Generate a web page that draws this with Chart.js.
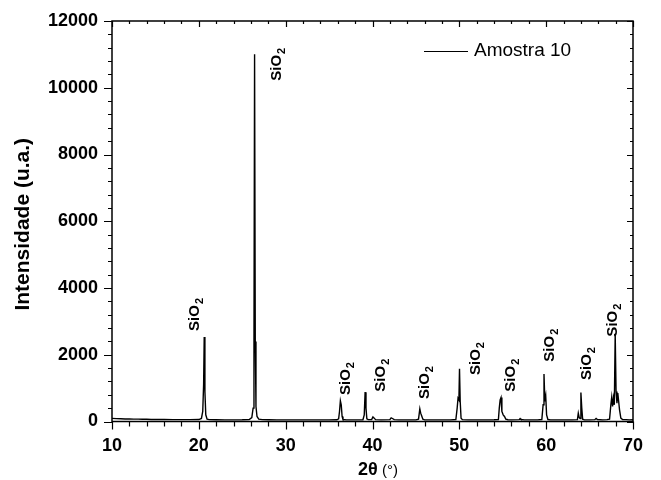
<!DOCTYPE html>
<html>
<head>
<meta charset="utf-8">
<script src="https://cdn.jsdelivr.net/npm/chart.js@4.4.1/dist/chart.umd.min.js"></script>
<style>
  body { margin: 0; background: #fff; }
  #wrap { width: 661px; height: 480px; }
</style>
</head>
<body>
<div id="wrap"><canvas id="xrdChart" width="661" height="480"></canvas></div>
<script>
// diffractogram: 2theta (deg) and intensity (u.a.)
var twoTheta = [10.0, 10.5, 11.0, 11.5, 12.0, 12.5, 13.0, 13.5, 14.0, 14.5, 15.0, 16.0, 17.0, 18.0, 19.0, 20.0,
  20.3, 20.45, 20.55, 20.62, 20.7, 20.8, 20.95, 21.2, 22.0, 23.0, 24.0, 25.0, 25.8,
  26.1, 26.25, 26.35, 26.42, 26.5, 26.58, 26.7, 26.9, 27.3, 28.0, 29.0, 30.0, 31.0, 32.0, 33.0, 34.0, 35.0,
  35.9, 36.1, 36.2, 36.3, 36.4, 36.5, 36.6, 37.0, 38.0,
  38.9, 39.05, 39.15, 39.25, 39.35, 39.5, 39.9, 40.05, 40.2, 40.35, 41.0,
  42.0, 42.15, 42.3, 42.5, 43.0, 44.0, 45.0,
  45.3, 45.45, 45.55, 45.65, 45.8, 46.0, 47.0, 48.0, 49.0,
  49.6, 49.75, 49.85, 49.95, 50.02, 50.1, 50.2, 50.35, 51.0, 52.0, 53.0, 54.0,
  54.5, 54.6, 54.7, 54.8, 54.9, 55.05, 55.2, 55.35, 55.6, 56.0,
  56.9, 57.0, 57.1, 57.5, 58.0, 59.0,
  59.5, 59.65, 59.75, 59.85, 59.95, 60.05, 60.2, 60.5, 61.0, 62.0, 63.0,
  63.6, 63.7, 63.8, 63.9, 64.0, 64.1, 64.2, 64.4, 65.0,
  65.6, 65.75, 65.9, 66.5, 67.0,
  67.3, 67.45, 67.55, 67.65, 67.75, 67.85, 67.95, 68.05, 68.15, 68.25, 68.35, 68.45, 68.6, 68.8, 69.2, 69.6, 70.0];
var intensity = [95, 85, 82, 75, 80, 72, 70, 68, 66, 62, 60, 58, 56, 55, 55, 58,
  90, 300, 1100, 2530, 900, 200, 70, 55, 52, 50, 50, 52, 60,
  120, 400, 2500, 11000, 2400, 450, 150, 70, 55, 52, 50, 50, 50, 50, 50, 50, 50,
  52, 80, 300, 620, 500, 150, 60, 50, 50,
  52, 200, 880, 400, 80, 55, 60, 140, 100, 55, 50,
  55, 110, 90, 55, 50, 50, 50,
  70, 380, 250, 180, 70, 50, 50, 50, 50,
  60, 400, 700, 650, 1580, 600, 100, 55, 50, 50, 50, 52,
  60, 400, 650, 720, 300, 200, 150, 70, 52, 50,
  55, 90, 60, 50, 50, 50,
  60, 500, 1420, 600, 760, 200, 60, 50, 50, 50, 50,
  55, 250, 120, 90, 870, 400, 70, 50, 50,
  55, 90, 60, 50, 55,
  70, 500, 730, 450, 700, 500, 2630, 900, 550, 850, 600, 350, 100, 60, 55, 50, 52];

// peak annotations (anchor in data units: 2theta, intensity)
var labelTheta = [20.0, 29.45, 37.4, 41.4, 46.5, 52.35, 56.4, 60.85, 65.15, 68.15];
var labelInt = [2714, 10210, 795, 894, 675, 1394, 894, 1793, 1244, 2543];

var seriesName = 'Amostra 10';
var xTicks = [10, 20, 30, 40, 50, 60, 70];
var yTicks = [0, 2000, 4000, 6000, 8000, 10000, 12000];

var points = twoTheta.map(function (t, i) { return { x: t, y: intensity[i] }; });
var FONT = '"Liberation Sans", Arial, Helvetica, sans-serif';

// frame, ticks, annotations, axis titles and legend drawn on top
var decorPlugin = {
  id: 'decor',
  afterDraw: function (chart) {
    var ctx = chart.ctx;
    var a = chart.chartArea;
    var xs = chart.scales.x, ys = chart.scales.y;
    ctx.save();
    ctx.strokeStyle = '#000';
    ctx.fillStyle = '#000';

    // frame
    ctx.lineWidth = 1.5;
    ctx.strokeRect(a.left, a.top, a.right - a.left, a.bottom - a.top);

    // x ticks: bottom outward, top inward
    ctx.lineWidth = 1.2;
    ctx.beginPath();
    for (var t = 10; t <= 70; t += 2) {
      var px = Math.round(xs.getPixelForValue(t)) + 0.5;
      var major = t % 10 === 0;
      ctx.moveTo(px, a.bottom); ctx.lineTo(px, a.bottom + (major ? 8 : 5));
      ctx.moveTo(px, a.top); ctx.lineTo(px, a.top + (major ? 6 : 3));
    }
    // y ticks: left outward, right inward
    for (var v = 0; v <= 12000; v += 400) {
      var py = Math.round(ys.getPixelForValue(v)) + 0.5;
      var maj = v % 2000 === 0;
      ctx.moveTo(a.left, py); ctx.lineTo(a.left - (maj ? 8 : 4), py);
      ctx.moveTo(a.right, py); ctx.lineTo(a.right - (maj ? 6 : 3), py);
    }
    ctx.stroke();

    // SiO2 labels, rotated
    for (var i = 0; i < labelTheta.length; i++) {
      var lx = xs.getPixelForValue(labelTheta[i]);
      var ly = ys.getPixelForValue(labelInt[i]);
      ctx.save();
      ctx.translate(lx, ly);
      ctx.rotate(-Math.PI / 2);
      ctx.textAlign = 'left';
      ctx.textBaseline = 'alphabetic';
      ctx.font = 'bold 15px ' + FONT;
      ctx.fillText('SiO', 0, 0);
      var w = ctx.measureText('SiO').width;
      ctx.font = 'bold 11px ' + FONT;
      ctx.fillText('2', w + 1, 4);
      ctx.restore();
    }

    // y title
    ctx.save();
    ctx.translate(29, (a.top + a.bottom) / 2 + 3);
    ctx.rotate(-Math.PI / 2);
    ctx.textAlign = 'center';
    ctx.textBaseline = 'alphabetic';
    ctx.font = 'bold 21px ' + FONT;
    ctx.fillText('Intensidade (u.a.)', 0, 0);
    ctx.restore();

    // x title: bold "2θ" + normal "(°)"
    ctx.textAlign = 'left';
    ctx.textBaseline = 'alphabetic';
    ctx.font = 'bold 18px ' + FONT;
    var part1 = '2θ';
    var w1 = ctx.measureText(part1).width;
    ctx.font = '15px ' + FONT;
    var part2 = ' (°)';
    var w2 = ctx.measureText(part2).width;
    var x0 = 378 - (w1 + w2) / 2;
    ctx.font = 'bold 18px ' + FONT;
    ctx.fillText(part1, x0, 475);
    ctx.font = '15px ' + FONT;
    ctx.fillText(part2, x0 + w1, 475);

    // legend
    ctx.lineWidth = 1.2;
    ctx.beginPath();
    ctx.moveTo(a.left + 312, 51.5);
    ctx.lineTo(a.left + 356, 51.5);
    ctx.stroke();
    ctx.font = '19px ' + FONT;
    ctx.textBaseline = 'middle';
    ctx.fillText(seriesName, a.left + 362, 51);

    ctx.restore();
  }
};

var xrdChart = new Chart(document.getElementById('xrdChart'), {
  type: 'scatter',
  data: {
    datasets: [{
      label: seriesName,
      data: points,
      showLine: true,
      borderColor: '#000',
      borderWidth: 1.4,
      pointRadius: 0,
      tension: 0
    }]
  },
  options: {
    responsive: false,
    animation: false,
    layout: { padding: { top: 21, right: 28, left: 0, bottom: 0 } },
    plugins: {
      legend: { display: false },
      tooltip: { enabled: false }
    },
    scales: {
      x: {
        type: 'linear',
        min: 10, max: 70,
        afterBuildTicks: function (s) { s.ticks = xTicks.map(function (v) { return { value: v }; }); },
        afterFit: function (s) { s.height = 58.5; },
        grid: { drawOnChartArea: false, tickLength: 9, color: 'rgba(0,0,0,0)' },
        border: { display: false },
        ticks: {
          color: '#000', padding: 5,
          font: { family: FONT, size: 18, weight: 'bold' },
          callback: function (v) { return String(v); }
        }
      },
      y: {
        min: 0, max: 12000,
        afterBuildTicks: function (s) { s.ticks = yTicks.map(function (v) { return { value: v }; }); },
        afterFit: function (s) { s.width = 112; },
        grid: { drawOnChartArea: false, tickLength: 9, color: 'rgba(0,0,0,0)' },
        border: { display: false },
        ticks: {
          color: '#000', padding: 5,
          font: { family: FONT, size: 18, weight: 'bold' },
          callback: function (v) { return String(v); }
        }
      }
    }
  },
  plugins: [decorPlugin]
});
</script>
</body>
</html>
